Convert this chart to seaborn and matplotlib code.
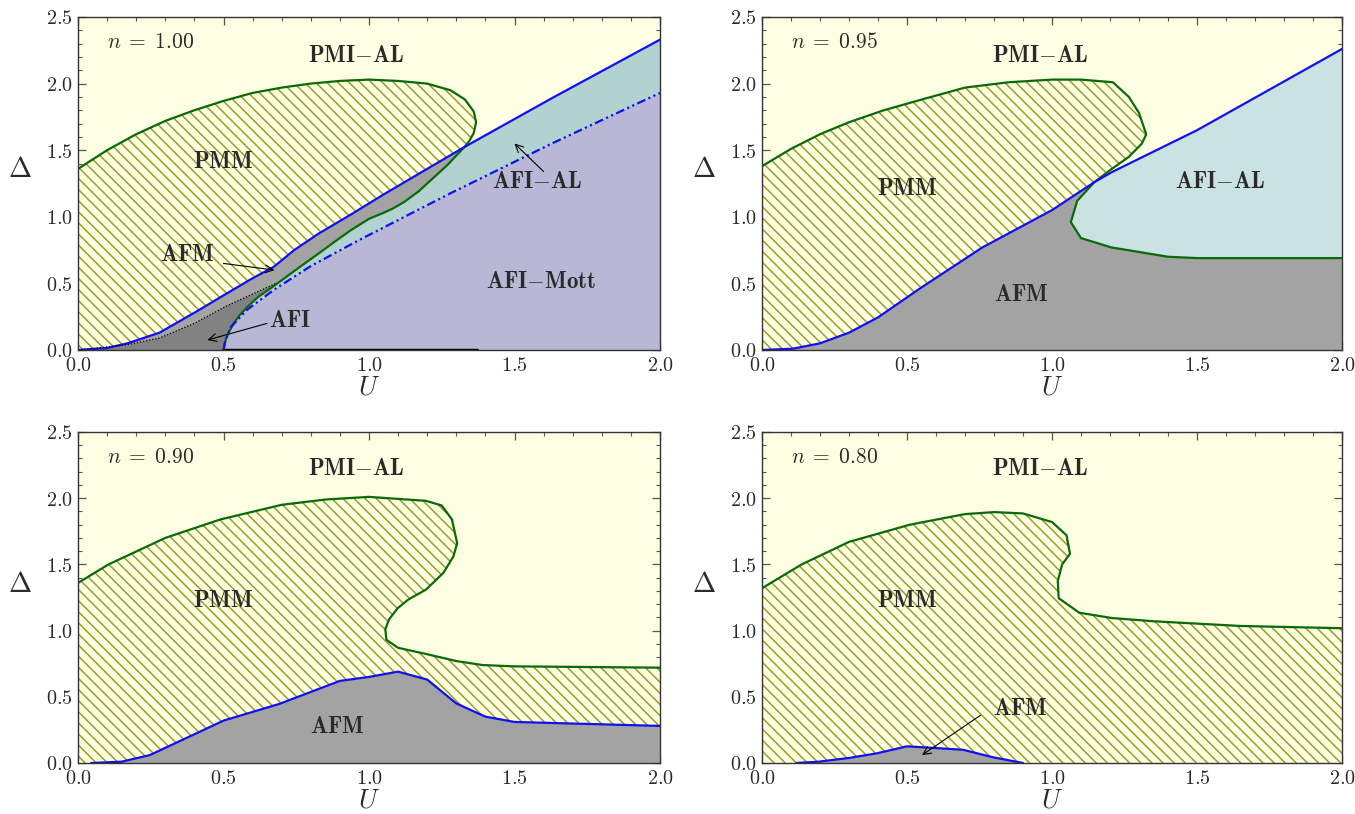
import numpy as np
import matplotlib
matplotlib.use('Agg')
import matplotlib.pyplot as plt
import seaborn as sns
from matplotlib.ticker import MultipleLocator, FuncFormatter

# ---------------- data (U, Delta) ----------------
# n = 1.00
tl_green_up_U = [0, 0.1, 0.2, 0.3, 0.4, 0.5, 0.6, 0.7, 0.8, 0.9, 1.0, 1.1, 1.2, 1.28, 1.33, 1.36, 1.368, 1.36, 1.345, 1.328]
tl_green_up_D = [1.36, 1.50, 1.62, 1.72, 1.80, 1.87, 1.93, 1.97, 2.0, 2.02, 2.03, 2.02, 2.0, 1.95, 1.88, 1.79, 1.71, 1.63, 1.57, 1.524]
tl_green_lo_U = [1.328, 1.30, 1.27, 1.22, 1.17, 1.12, 1.08, 1.05, 1.0, 0.938, 0.88, 0.824, 0.76, 0.707, 0.66, 0.62, 0.585, 0.555, 0.535, 0.52, 0.508, 0.5]
tl_green_lo_D = [1.524, 1.46, 1.39, 1.29, 1.19, 1.11, 1.06, 1.03, 0.985, 0.90, 0.81, 0.72, 0.62, 0.535, 0.46, 0.40, 0.33, 0.26, 0.20, 0.14, 0.08, 0.0]
tl_blue_U = [0, 0.1, 0.17, 0.28, 0.4, 0.5, 0.593, 0.673, 0.743, 0.824, 0.94, 1.052, 1.2, 1.328, 1.628, 2.0]
tl_blue_D = [0, 0.015, 0.05, 0.13, 0.28, 0.41, 0.53, 0.625, 0.75, 0.87, 1.02, 1.17, 1.36, 1.524, 1.89, 2.33]
tl_dashdot_U = [0.5, 0.505, 0.524, 0.58, 0.672, 0.8, 0.97, 1.283, 1.628, 2.0]
tl_dashdot_D = [0.0, 0.06, 0.17, 0.30, 0.45, 0.63, 0.83, 1.18, 1.55, 1.93]
tl_dotted_U = [0, 0.17, 0.28, 0.4, 0.51, 0.63, 0.68]
tl_dotted_D = [0, 0.04, 0.09, 0.2, 0.33, 0.45, 0.50]
tl_base_U = [0.5, 1.37]
tl_base_D = [0.0, 0.0]

# n = 0.95
tr_green_up_U = [0, 0.1, 0.2, 0.3, 0.42, 0.55, 0.7, 0.85, 1.0, 1.1, 1.21, 1.265, 1.30, 1.317, 1.325, 1.31, 1.265, 1.20, 1.146]
tr_green_up_D = [1.38, 1.51, 1.62, 1.71, 1.80, 1.88, 1.97, 2.01, 2.03, 2.03, 2.01, 1.90, 1.78, 1.67, 1.62, 1.55, 1.45, 1.35, 1.26]
tr_green_lo_U = [1.146, 1.087, 1.065, 1.10, 1.205, 1.40, 1.5, 2.0]
tr_green_lo_D = [1.26, 1.12, 0.96, 0.84, 0.77, 0.70, 0.69, 0.69]
tr_blue_U = [0, 0.107, 0.2, 0.3, 0.4, 0.55, 0.76, 1.0, 1.146, 1.206, 1.5, 2.0]
tr_blue_D = [0, 0.01, 0.05, 0.13, 0.245, 0.47, 0.77, 1.05, 1.26, 1.335, 1.65, 2.26]

# n = 0.90
bl_green_U = [0, 0.105, 0.3, 0.49, 0.70, 0.85, 1.0, 1.196, 1.25, 1.285, 1.303, 1.29, 1.256, 1.196, 1.136, 1.099, 1.069, 1.056, 1.06, 1.10, 1.203, 1.30, 1.39, 1.495, 2.0]
bl_green_D = [1.36, 1.50, 1.70, 1.84, 1.95, 1.99, 2.01, 1.98, 1.945, 1.84, 1.66, 1.56, 1.437, 1.31, 1.236, 1.17, 1.085, 1.01, 0.93, 0.87, 0.82, 0.77, 0.74, 0.73, 0.72]
bl_blue_U = [0.045, 0.15, 0.247, 0.50, 0.69, 0.90, 1.0, 1.10, 1.20, 1.30, 1.40, 1.50, 2.0]
bl_blue_D = [0, 0.01, 0.06, 0.32, 0.445, 0.62, 0.65, 0.69, 0.63, 0.45, 0.35, 0.31, 0.28]

# n = 0.80
br_green_U = [0, 0.137, 0.30, 0.51, 0.70, 0.80, 0.90, 1.0, 1.05, 1.062, 1.035, 1.02, 1.023, 1.094, 1.206, 1.354, 1.65, 2.0]
br_green_D = [1.32, 1.50, 1.67, 1.80, 1.88, 1.895, 1.885, 1.82, 1.72, 1.58, 1.50, 1.375, 1.245, 1.135, 1.095, 1.07, 1.035, 1.018]
br_blue_U = [0.119, 0.196, 0.30, 0.396, 0.50, 0.597, 0.693, 0.797, 0.90]
br_blue_D = [0, 0.01, 0.038, 0.073, 0.126, 0.113, 0.10, 0.043, 0]

x_ticks = [0.0, 0.5, 1.0, 1.5, 2.0]
y_ticks = [0.0, 0.5, 1.0, 1.5, 2.0, 2.5]

# ---------------- style ----------------
sns.set_theme(style='ticks')
plt.rcParams.update({
    'mathtext.fontset': 'cm',
    'font.family': ['DejaVu Serif'],
    'hatch.linewidth': 1.1,
    'axes.linewidth': 1.0,
    'axes.edgecolor': '#333333',
})

YEL = '#FEFEE2'
OLIVE = '#9C9C28'
GRAY = '#A3A3A3'
DGRAY = '#828282'
TEAL1 = '#B2D2D2'
TEAL2 = '#CBE2E2'
LAV = '#B8B8D6'
BLUE = '#1010F0'
GREEN = '#0A6A0A'
TXT = '#2a2a2a'
HATCH = '\\\\\\'

fig = plt.figure(figsize=(13.55, 8.14), dpi=100)
W = 1355.0
H = 814.0
ax_tl = fig.add_axes([78 / W, 1 - 350 / H, 582 / W, 333 / H])
ax_tr = fig.add_axes([762 / W, 1 - 350 / H, 580 / W, 333 / H])
ax_bl = fig.add_axes([78 / W, 1 - 763 / H, 582 / W, 331 / H])
ax_br = fig.add_axes([762 / W, 1 - 763 / H, 580 / W, 331 / H])


def style_axes(ax, ntext):
    ax.set_xlim(0, 2.0)
    ax.set_ylim(0, 2.5)
    ax.set_facecolor(YEL)
    ax.set_xticks(x_ticks)
    ax.set_yticks(y_ticks)
    ax.xaxis.set_minor_locator(MultipleLocator(0.1))
    ax.yaxis.set_minor_locator(MultipleLocator(0.1))
    fmt = FuncFormatter(lambda v, p: r'$%.1f$' % v)
    ax.xaxis.set_major_formatter(fmt)
    ax.yaxis.set_major_formatter(fmt)
    ax.tick_params(which='both', direction='in', top=True, right=True,
                   color='#555555', labelcolor=TXT, labelsize=14.5, pad=4)
    ax.tick_params(which='major', length=6, width=0.9)
    ax.tick_params(which='minor', length=3, width=0.8)
    ax.set_xlabel(r'$U$', fontsize=19, color=TXT)
    ax.set_ylabel(r'$\Delta$', fontsize=20, color=TXT, rotation=0)
    ax.xaxis.set_label_coords(0.5, -0.074)
    ax.yaxis.set_label_coords(-0.10, 0.5)
    ax.text(0.1, 2.31, ntext, fontsize=15.5, color=TXT, ha='left', va='center', zorder=10)
    for sp in ax.spines.values():
        sp.set_zorder(20)


def lab(ax, x, y, s):
    ax.text(x, y, r'$\mathbf{%s}$' % s, fontsize=16.5, color=TXT, ha='center', va='center', zorder=10)


def arrow(ax, x0, y0, x1, y1):
    ax.annotate('', xy=(x1, y1), xytext=(x0, y0),
                arrowprops=dict(arrowstyle='->', lw=0.8, color='black',
                                mutation_scale=14, shrinkA=0, shrinkB=0), zorder=11)


def line(ax, U, D, color, **kw):
    sns.lineplot(x=U, y=D, ax=ax, sort=False, estimator=None, color=color, lw=1.6, zorder=6, **kw)


# ---------- panel n=1.00 ----------
ax = ax_tl
i = tl_blue_U.index(1.328)
ax.fill(tl_green_up_U + tl_blue_U[:i][::-1], tl_green_up_D + tl_blue_D[:i][::-1],
        facecolor=YEL, edgecolor=OLIVE, hatch=HATCH, lw=0, zorder=1)
ax.fill(tl_blue_U[:i + 1] + tl_green_lo_U[1:], tl_blue_D[:i + 1] + tl_green_lo_D[1:],
        facecolor=GRAY, lw=0, zorder=2)
j = tl_green_lo_U.index(0.66)
ax.fill(tl_dotted_U + tl_green_lo_U[j:], tl_dotted_D + tl_green_lo_D[j:],
        facecolor=DGRAY, lw=0, zorder=3)
ax.fill(tl_green_lo_U[::-1] + tl_blue_U[i + 1:] + tl_dashdot_U[::-1],
        tl_green_lo_D[::-1] + tl_blue_D[i + 1:] + tl_dashdot_D[::-1],
        facecolor=TEAL1, lw=0, zorder=2)
ax.fill(tl_dashdot_U + [2.0], tl_dashdot_D + [0.0], facecolor=LAV, lw=0, zorder=3)
line(ax, tl_green_up_U + tl_green_lo_U[1:], tl_green_up_D + tl_green_lo_D[1:], GREEN)
line(ax, tl_blue_U, tl_blue_D, BLUE)
line(ax, tl_dashdot_U, tl_dashdot_D, BLUE, linestyle=(0, (4, 1.5, 1, 1.5, 1, 1.5)))
line(ax, tl_dotted_U, tl_dotted_D, 'black', linestyle=(0, (1, 1.5)))
ax.lines[-1].set_linewidth(0.9)
line(ax, tl_base_U, tl_base_D, 'black')
ax.lines[-1].set_linewidth(2.5)
style_axes(ax, r'$n\;=\;1.00$')
lab(ax, 0.957, 2.21, r'PMI{-}AL')
lab(ax, 0.50, 1.41, r'PMM')
lab(ax, 1.58, 1.26, r'AFI{-}AL')
lab(ax, 0.374, 0.71, r'AFM')
lab(ax, 0.73, 0.215, r'AFI')
lab(ax, 1.59, 0.51, r'AFI{-}Mott')
arrow(ax, 1.60, 1.34, 1.5, 1.55)
arrow(ax, 0.50, 0.65, 0.675, 0.60)
arrow(ax, 0.65, 0.20, 0.445, 0.075)

# ---------- panel n=0.95 ----------
ax = ax_tr
ax.fill(tr_green_up_U + tr_blue_U[:8][::-1], tr_green_up_D + tr_blue_D[:8][::-1],
        facecolor=YEL, edgecolor=OLIVE, hatch=HATCH, lw=0, zorder=1)
ax.fill(tr_blue_U[:9] + tr_green_lo_U[1:] + [2.0], tr_blue_D[:9] + tr_green_lo_D[1:] + [0.0],
        facecolor=GRAY, lw=0, zorder=2)
ax.fill(tr_green_lo_U + tr_blue_U[8:][::-1], tr_green_lo_D + tr_blue_D[8:][::-1],
        facecolor=TEAL2, lw=0, zorder=2)
line(ax, tr_green_up_U + tr_green_lo_U[1:], tr_green_up_D + tr_green_lo_D[1:], GREEN)
line(ax, tr_blue_U, tr_blue_D, BLUE)
style_axes(ax, r'$n\;=\;0.95$')
lab(ax, 0.96, 2.21, r'PMI{-}AL')
lab(ax, 0.50, 1.21, r'PMM')
lab(ax, 1.58, 1.26, r'AFI{-}AL')
lab(ax, 0.894, 0.416, r'AFM')

# ---------- panel n=0.90 ----------
ax = ax_bl
ax.fill([0.0] + bl_green_U + [2.0], [0.0] + bl_green_D + [0.0],
        facecolor=YEL, edgecolor=OLIVE, hatch=HATCH, lw=0, zorder=1)
ax.fill(bl_blue_U + [2.0], bl_blue_D + [0.0], facecolor=GRAY, lw=0, zorder=2)
line(ax, bl_green_U, bl_green_D, GREEN)
line(ax, bl_blue_U, bl_blue_D, BLUE)
style_axes(ax, r'$n\;=\;0.90$')
lab(ax, 0.957, 2.22, r'PMI{-}AL')
lab(ax, 0.50, 1.22, r'PMM')
lab(ax, 0.89, 0.27, r'AFM')

# ---------- panel n=0.80 ----------
ax = ax_br
ax.fill([0.0] + br_green_U + [2.0], [0.0] + br_green_D + [0.0],
        facecolor=YEL, edgecolor=OLIVE, hatch=HATCH, lw=0, zorder=1)
ax.fill(br_blue_U, br_blue_D, facecolor=GRAY, lw=0, zorder=2)
line(ax, br_green_U, br_green_D, GREEN)
line(ax, br_blue_U, br_blue_D, BLUE)
style_axes(ax, r'$n\;=\;0.80$')
lab(ax, 0.96, 2.22, r'PMI{-}AL')
lab(ax, 0.50, 1.22, r'PMM')
lab(ax, 0.89, 0.41, r'AFM')
arrow(ax, 0.753, 0.36, 0.552, 0.06)

fig.savefig('out.png', dpi=100)
